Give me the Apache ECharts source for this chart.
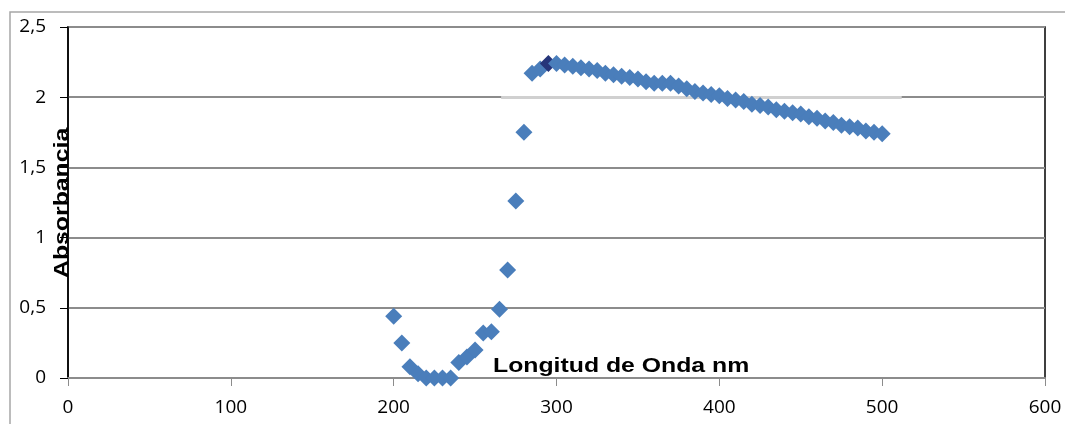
<!DOCTYPE html>
<html>
<head>
<meta charset="utf-8">
<script src="https://cdn.jsdelivr.net/npm/echarts@6/dist/echarts.min.js"></script>
<style>
html, body { margin: 0; padding: 0; background: #fff; }
#chart { width: 1065px; height: 424px; }
</style>
</head>
<body>
<div id="chart"></div>
<script>
var longitud = [200, 205, 210, 215, 220, 225, 230, 235, 240, 245, 250, 255, 260, 265, 270, 275, 280, 285, 290, 295,
    300, 305, 310, 315, 320, 325, 330, 335, 340, 345, 350, 355, 360, 365, 370, 375, 380, 385, 390, 395,
    400, 405, 410, 415, 420, 425, 430, 435, 440, 445, 450, 455, 460, 465, 470, 475, 480, 485, 490, 495, 500];
var absorbancia = [0.44, 0.25, 0.08, 0.03, 0.0, 0.0, 0.0, 0.0, 0.11, 0.15, 0.2, 0.32, 0.33, 0.49, 0.77, 1.26, 1.75, 2.17, 2.2, 2.24,
    2.24, 2.23, 2.22, 2.21, 2.2, 2.19, 2.17, 2.16, 2.15, 2.14, 2.13, 2.11, 2.1, 2.1, 2.1, 2.08, 2.06, 2.04, 2.03, 2.02,
    2.01, 1.99, 1.98, 1.97, 1.95, 1.94, 1.93, 1.91, 1.9, 1.89, 1.88, 1.86, 1.85, 1.83, 1.82, 1.8, 1.79, 1.78, 1.76, 1.75, 1.74];
var puntoOscuro = 295;

var myChart = echarts.init(document.getElementById('chart'));

var datos = longitud.map(function (x, i) {
    var p = { value: [x, absorbancia[i]] };
    if (x === puntoOscuro) {
        p.itemStyle = { color: '#26357a' };
    }
    return p;
});

myChart.setOption({
    animation: false,
    textStyle: { fontFamily: 'Open Sans' },
    graphic: [{
        type: 'rect',
        shape: { x: 10, y: 12, width: 1100, height: 500 },
        style: { fill: 'none', stroke: '#a6a6a6', lineWidth: 1.5 },
        z: -1
    }, {
        // titulo eje x
        type: 'text',
        x: 493,
        y: 356,
        scaleX: 1.24,
        style: { text: 'Longitud de Onda nm', fontFamily: 'Liberation Sans', fontWeight: 'bold', fontSize: 20, fill: '#000' },
        z: 10
    }, {
        // titulo eje y
        type: 'text',
        x: 52,
        y: 278,
        rotation: Math.PI / 2,
        scaleX: 1.24,
        style: { text: 'Absorbancia', fontFamily: 'Liberation Sans', fontWeight: 'bold', fontSize: 20, fill: '#000' },
        z: 10
    }],
    grid: {
        left: 68, right: 20, top: 27, bottom: 46,
        outerBoundsMode: 'none',
        containLabel: false,
        show: true, borderColor: '#000', borderWidth: 1.5, backgroundColor: 'transparent'
    },
    xAxis: {
        type: 'value',
        min: 0, max: 600, interval: 100,
        axisLine: { show: true, onZero: false, lineStyle: { color: '#8c8c8c', width: 2 } },
        axisTick: { show: true, length: 8, lineStyle: { color: '#8c8c8c' } },
        axisLabel: { color: '#000', fontSize: 19, margin: 20 },
        splitLine: { show: false }
    },
    yAxis: {
        type: 'value',
        min: 0, max: 2.5, interval: 0.5,
        axisLine: { show: true, lineStyle: { color: '#000', width: 1.5 } },
        axisTick: { show: true, length: 8, lineStyle: { color: '#000' } },
        axisLabel: {
            color: '#000', fontSize: 19, margin: 22,
            formatter: function (v) { return String(v).replace('.', ','); }
        },
        splitLine: { show: true, lineStyle: { color: '#8c8c8c', width: 2 } }
    },
    series: [{
        name: 'Absorbancia',
        type: 'scatter',
        symbol: 'diamond',
        symbolSize: 17,
        itemStyle: { color: '#4a7ebb', opacity: 1 },
        data: datos,
        markLine: {
            silent: true,
            symbol: 'none',
            label: { show: false },
            lineStyle: { color: '#d0d0d0', width: 3, type: 'solid' },
            data: [[{ coord: [266, 2] }, { coord: [512, 2] }]],
            z: 1
        }
    }]
});
</script>
</body>
</html>
